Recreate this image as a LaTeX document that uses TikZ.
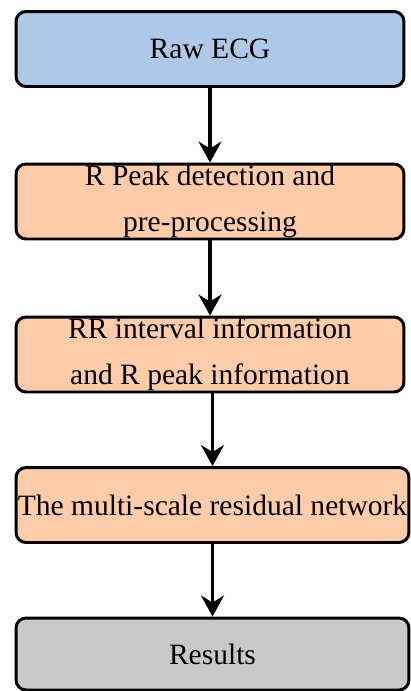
\documentclass[tikz,border=0pt]{standalone}
\usepackage{fontspec}
\setmainfont{Liberation Serif}
\usetikzlibrary{positioning,arrows.meta}

\definecolor{ecgblue}{RGB}{174,200,232}
\definecolor{stepfill}{RGB}{255,204,170}
\definecolor{resgray}{RGB}{200,200,200}

\tikzset{
    box/.style={draw,black,line width=1.7pt,rounded corners=0.2cm,
        minimum width=7.76cm,minimum height=1.5cm,inner sep=0pt,
        align=center,font=\fontsize{16.8}{26}\selectfont},
    widebox/.style={box,minimum width=7.86cm},
    flow/.style={line width=1.8pt,-{Stealth[length=0.42cm,width=0.46cm,inset=0.14cm]}}
}

\begin{document}
\begin{tikzpicture}[x=0.02cm,y=-0.02cm]
    \useasboundingbox (0,0) rectangle (410,691);

    \node[box,fill=ecgblue] (raw) at (210,49) {Raw ECG};
    \node[box,fill=stepfill] (rpeak) at (210,201.5) {R Peak detection and\\pre-processing};
    \node[box,fill=stepfill] (rrinfo) at (210,354.5) {RR interval information\\and R peak information};
    \node[widebox,fill=stepfill] (msrn) at (212.5,505) {The multi-scale residual network};
    \node[widebox,fill=resgray,minimum height=1.44cm] (res) at (212.5,654) {Results};

    \draw[flow] (raw) -- (rpeak);
    \draw[flow] (rpeak) -- (rrinfo);
    \draw[flow] (rrinfo.south -| msrn.north) -- (msrn);
    \draw[flow] (msrn) -- (res);
\end{tikzpicture}
\end{document}
